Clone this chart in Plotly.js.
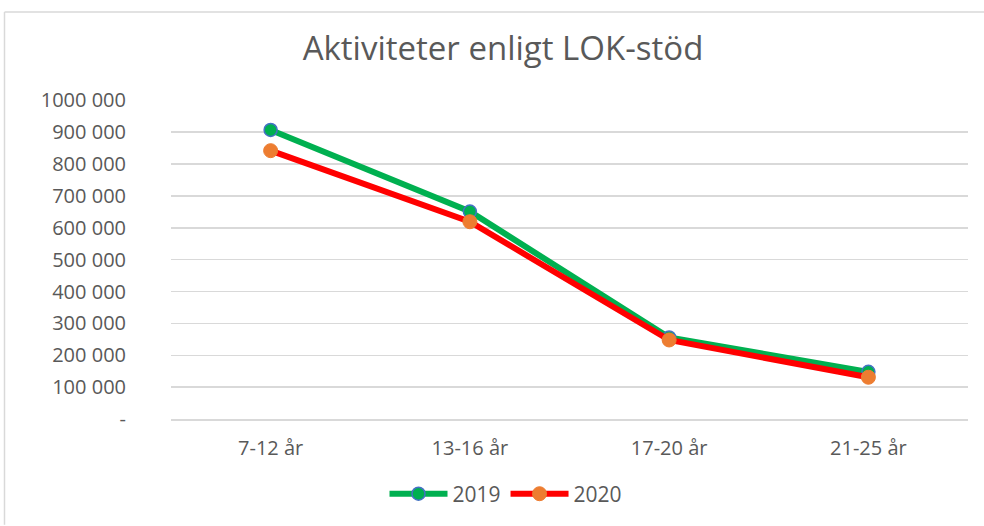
<!DOCTYPE html>
<html><head><meta charset="utf-8">
<script src="https://cdn.plot.ly/plotly-3.0.1.min.js"></script>
<style>body{margin:0;background:#fff}#c{width:984px;height:526px}</style>
</head><body><div id="c"></div>
<script>
const categories = ["7-12 år", "13-16 år", "17-20 år", "21-25 år"];
const values2019 = [907000, 651000, 256000, 148000];
const values2020 = [842000, 619000, 248000, 131000];
const tickValues = [0, 100000, 200000, 300000, 400000, 500000, 600000, 700000, 800000, 900000, 1000000];
const tickLabels = ["-", "100 000", "200 000", "300 000", "400 000", "500 000", "600 000", "700 000", "800 000", "900 000", "1000 000"];

const W = 984, H = 526, L = 171, R = 16, T = 100, B = 103;
const pw = W - L - R, ph = H - T - B;
function px(x){return (x - L)/pw;}
function py(y){return (H - B - y)/ph;}

const traces = [
  {x: categories, y: values2019, name: "2019", type: "scatter", mode: "lines+markers",
   line: {color: "#00B050", width: 6},
   marker: {color: "#00B050", size: 13, line: {color: "#4472C4", width: 1.5}}},
  {x: categories, y: values2020, name: "2020", type: "scatter", mode: "lines+markers",
   line: {color: "#FF0000", width: 6},
   marker: {color: "#ED7D31", size: 14, line: {color: "#ED7D31", width: 1}}}
];

const layout = {
  width: W, height: H,
  margin: {l: L, r: R, t: T, b: B},
  paper_bgcolor: "#fff", plot_bgcolor: "#fff",
  font: {family: "Open Sans, Liberation Sans, sans-serif", color: "#595959", size: 20},
  title: {text: "Aktiviteter enligt LOK-stöd", x: 503/W, xanchor: "center", y: 1 - 48/H, yanchor: "middle",
          font: {size: 33, color: "#595959"}},
  xaxis: {type: "category", range: [-0.5, 3.5], showgrid: false, zeroline: false,
          showline: true, linecolor: "#D9D9D9", linewidth: 1.5, ticks: "", ticklabelstandoff: 10,
          tickfont: {size: 20, color: "#595959"}, fixedrange: true},
  yaxis: {range: [0, 1001000], tickvals: tickValues, ticktext: tickLabels, showgrid: true,
          gridcolor: "#D9D9D9", gridwidth: 1.5, zeroline: false, showline: false, ticks: "",
          ticklabelstandoff: 44, tickfont: {size: 20, color: "#595959"}, fixedrange: true},
  showlegend: true,
  legend: {orientation: "h", x: px(506), xanchor: "center", y: py(499), yanchor: "middle",
           font: {size: 21, color: "#595959"}, itemwidth: 58, traceorder: "normal"},
  shapes: [
    {type: "line", xref: "paper", yref: "paper", x0: px(4.5), x1: px(4.5), y0: py(11), y1: py(530),
     line: {color: "#D9D9D9", width: 1.5}},
    {type: "line", xref: "paper", yref: "paper", x0: px(4.5), x1: px(990), y0: py(11), y1: py(11),
     line: {color: "#D9D9D9", width: 1.5}}
  ]
};
Plotly.newPlot("c", traces, layout, {displayModeBar: false, staticPlot: true});
</script></body></html>
